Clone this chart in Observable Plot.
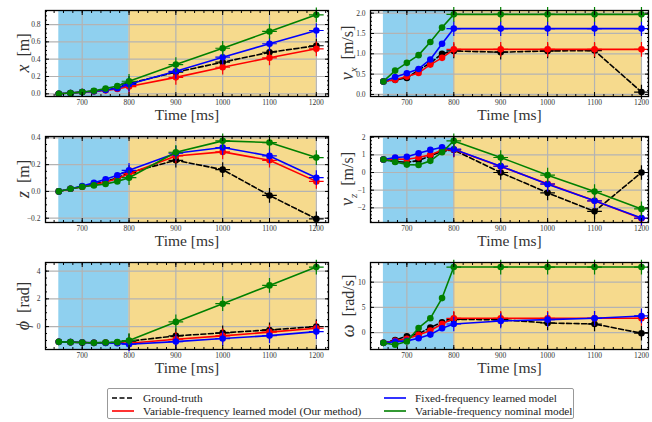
<!DOCTYPE html>
<html><head><meta charset="utf-8">
<script src="https://cdn.jsdelivr.net/npm/d3@7"></script>
<script src="https://cdn.jsdelivr.net/npm/@observablehq/plot@0.6"></script>
<style>
body{margin:0;background:#fff;font-family:"Liberation Serif","DejaVu Serif",serif;}
#fig{position:relative;width:652px;height:422px;overflow:hidden;background:#fff;}
.panel{position:absolute;}
.ylab{position:absolute;transform:translate(-50%,-50%) rotate(-90deg);white-space:nowrap;font-size:16px;color:#333;}
.ylab i{font-family:"Liberation Serif",serif;font-style:italic;font-size:18px;}
.ylab sub{font-size:11px;font-style:italic;}
#legend{position:absolute;left:107px;top:388px;width:467px;height:31px;border:1px solid #999;border-radius:2px;box-sizing:border-box;background:#fff;}
.li{position:absolute;font-size:11.3px;color:#222;white-space:nowrap;transform:translateY(-50%);}
.ls{position:absolute;}
</style></head><body><div id="fig"></div>
<script>
// ---- data ----
const times = [650, 675, 700, 725, 750, 775, 800, 900, 1000, 1100, 1200];
const seriesNames = ["Ground-truth", "Variable-frequency learned model (Our method)", "Fixed-frequency learned model", "Variable-frequency nominal model"];
const seriesColors = ["black", "#ff0000", "#0000ff", "#008000"];
const phaseStarts = [650, 800];
const phaseEnds = [800, 1200];
const phaseColors = ["#8fd0ef", "#f6da8d"];
const xMajorTicks = [700, 800, 900, 1000, 1100, 1200];

// x [m]
const xGT  = [0, 0.01, 0.02, 0.03, 0.045, 0.065, 0.12, 0.25, 0.365, 0.48, 0.555];
const xVar = [0, 0.01, 0.02, 0.03, 0.04, 0.055, 0.084, 0.19, 0.307, 0.416, 0.52];
const xFix = [0, 0.01, 0.02, 0.03, 0.045, 0.065, 0.11, 0.26, 0.423, 0.578, 0.731];
const xNom = [0, 0.01, 0.02, 0.035, 0.06, 0.09, 0.145, 0.338, 0.526, 0.72, 0.912];
// v_x [m/s]
const vxGT  = [0.32, 0.36, 0.405, 0.6, 0.777, 1.0, 1.07, 1.04, 1.07, 1.08, 0.06];
const vxVar = [0.32, 0.36, 0.44, 0.53, 0.735, 0.9, 1.11, 1.11, 1.11, 1.11, 1.11];
const vxFix = [0.32, 0.43, 0.52, 0.628, 0.86, 1.248, 1.62, 1.62, 1.62, 1.62, 1.62];
const vxNom = [0.32, 0.587, 0.777, 0.967, 1.29, 1.645, 1.97, 1.97, 1.97, 1.97, 1.97];
// z [m]
const zGT  = [0, 0.02, 0.035, 0.055, 0.075, 0.1, 0.14, 0.2325, 0.1625, -0.03, -0.205];
const zVar = [0, 0.02, 0.035, 0.05, 0.07, 0.095, 0.1325, 0.265, 0.295, 0.2325, 0.075];
const zFix = [0, 0.02, 0.04, 0.065, 0.09, 0.12, 0.1575, 0.285, 0.3275, 0.265, 0.1025];
const zNom = [0, 0.02, 0.035, 0.045, 0.055, 0.075, 0.1025, 0.2925, 0.3775, 0.365, 0.2525];
// v_z [m/s]
const vzGT  = [0.74, 0.62, 0.58, 0.68, 0.95, 1.2, 1.28, 0.0, -1.15, -2.2, 0.0];
const vzVar = [0.74, 0.77, 0.75, 0.85, 1.0, 1.28, 1.3, 0.34, -0.64, -1.6, -2.6];
const vzFix = [0.74, 0.85, 0.89, 1.09, 1.28, 1.43, 1.32, 0.36, -0.66, -1.6, -2.58];
const vzNom = [0.74, 0.6, 0.45, 0.43, 0.66, 1.15, 1.79, 0.85, -0.15, -1.08, -2.06];
// phi [rad]
const phiGT  = [-1.1, -1.12, -1.15, -1.17, -1.15, -1.15, -1.05, -0.67, -0.45, -0.24, 0.0];
const phiVar = [-1.1, -1.12, -1.15, -1.17, -1.17, -1.18, -1.2, -0.91, -0.67, -0.4, -0.12];
const phiFix = [-1.1, -1.12, -1.15, -1.17, -1.18, -1.2, -1.27, -1.08, -0.86, -0.65, -0.36];
const phiNom = [-1.1, -1.12, -1.15, -1.17, -1.15, -1.12, -1.0, 0.34, 1.65, 2.97, 4.29];
// omega [rad/s]
const wGT  = [-2.04, -1.5, -0.72, -0.26, 1.0, 2.04, 2.6, 2.56, 1.9, 1.7, -0.13];
const wVar = [-2.04, -1.65, -1.25, -0.46, 0.4, 1.7, 2.83, 2.83, 2.83, 2.83, 2.83];
const wFix = [-2.04, -1.8, -1.65, -1.12, -0.4, 0.86, 1.7, 2.3, 2.56, 2.83, 3.3];
const wNom = [-2.04, -2.43, -1.78, 0.92, 2.83, 6.84, 13.0, 13.0, 13.0, 13.0, 13.0];

// y-axis ticks
const xTicksY = [0, 0.2, 0.4, 0.6, 0.8];
const vxTicksY = [0, 0.5, 1.0, 1.5, 2.0];
const zTicksY = [-0.2, 0, 0.2, 0.4];
const vzTicksY = [-2, -1, 0, 1, 2];
const phiTicksY = [0, 2, 4];
const wTicksY = [0, 5, 10];

// ---- layout ----
const fig = document.getElementById("fig");
const phases = phaseStarts.map((s, i) => ({start: s, end: phaseEnds[i], color: phaseColors[i]}));

function rowsOf(series) {
  return series.map((vals, k) => vals.map((v, i) => ({t: times[i], v, k})));
}

function makePanel(o) {
  const col = o.col, row = o.row;
  const left = col === 0 ? 0 : 326;
  const svgTop = [0, 126, 252][row];
  const frameH = row === 2 ? 87 : 86;
  const marginTop = 10, marginBottom = 30;
  const marginLeft = col === 0 ? 45 : 44;
  const marginRight = col === 0 ? 2 : 4;
  const width = 326 + (col === 0 ? 4 : 0);
  const xDomain = col === 0 ? [621.6, 1226] : [622.5, 1215];
  const [y0, y1] = o.yDomain;
  const step = o.yTicks[1] - o.yTicks[0];
  const mant = step / Math.pow(10, Math.floor(Math.log10(step) + 1e-9));
  const ndiv = [1, 5, 10].some(m => Math.abs(mant - m) < 1e-6) ? 5 : 4;
  const minorStep = step / ndiv;
  const yMinor = d3.range(Math.ceil(y0 / minorStep), Math.floor(y1 / minorStep) + 1).map(i => +(i * minorStep).toFixed(6));
  const xMinor = d3.range(Math.ceil(xDomain[0] / 20) * 20, xDomain[1], 20);
  const groups = rowsOf(o.series);
  const lineMarks = [];
  for (const k of [0, 1, 2, 3]) {
    const data = groups[k];
    lineMarks.push(Plot.line(data, {x: "t", y: "v", stroke: seriesColors[k], strokeWidth: 1.6,
      strokeDasharray: k === 0 ? "5,2.5" : null}));
    lineMarks.push(Plot.dot(data, {x: "t", y: "v", fill: seriesColors[k], r: 3.3, stroke: "none"}));
    lineMarks.push(Plot.dot(data.filter(d => d.t >= 800), {x: "t", y: "v", symbol: "plus", stroke: seriesColors[k], r: 4.8, strokeWidth: 1.2}));
  }
  const grid = {stroke: "#b3b3b3", strokeOpacity: 1, strokeWidth: 1.2};
  const tickStyle = {fontSize: 7.5, fill: "#333"};
  const svg = Plot.plot({
    width, height: marginTop + frameH + marginBottom,
    marginTop, marginBottom, marginLeft, marginRight,
    style: {fontFamily: '"Liberation Serif", serif', background: "transparent", overflow: "visible"},
    x: {domain: xDomain, label: null},
    y: {domain: o.yDomain, label: null},
    marks: [
      Plot.rect(phases, {x1: "start", x2: "end", fill: "color"}),
      Plot.gridX(xMajorTicks, grid),
      Plot.gridY(o.yTicks, grid),
      ...lineMarks,
      Plot.frame({stroke: "black", strokeWidth: 1.3}),
      Plot.axisX(xMajorTicks, {anchor: "bottom", tickSize: 0, tickPadding: 3, label: null, tickFormat: d3.format("d"), ...tickStyle}),
      Plot.axisX(xMajorTicks, {anchor: "bottom", tickSize: -4, tickFormat: () => "", label: null}),
      Plot.axisX(xMinor, {anchor: "bottom", tickSize: -2, tickFormat: () => "", label: null}),
      Plot.axisX(xMajorTicks, {anchor: "top", tickSize: -4, tickFormat: () => "", label: null}),
      Plot.axisX(xMinor, {anchor: "top", tickSize: -2, tickFormat: () => "", label: null}),
      Plot.axisY(o.yTicks, {anchor: "left", tickSize: 0, tickPadding: 5, label: null, tickFormat: o.fmt, ...tickStyle}),
      Plot.axisY(o.yTicks, {anchor: "left", tickSize: -4, tickFormat: () => "", label: null}),
      Plot.axisY(yMinor, {anchor: "left", tickSize: -2, tickFormat: () => "", label: null}),
      Plot.axisY(o.yTicks, {anchor: "right", tickSize: -4, tickFormat: () => "", label: null}),
      Plot.axisY(yMinor, {anchor: "right", tickSize: -2, tickFormat: () => "", label: null}),
      Plot.text(["Time [ms]"], {frameAnchor: "bottom", dy: 23, fontSize: 15.5, fill: "#333"})
    ]
  });
  const div = document.createElement("div");
  div.className = "panel";
  div.style.left = left + "px";
  div.style.top = svgTop + "px";
  div.appendChild(svg);
  fig.appendChild(div);
  const lab = document.createElement("div");
  lab.className = "ylab";
  lab.innerHTML = o.label;
  lab.style.left = (col === 0 ? 23 : 348) + "px";
  lab.style.top = (svgTop + marginTop + frameH / 2) + "px";
  fig.appendChild(lab);
}

const f1 = d3.format(".1f"), f0 = d3.format("d");
makePanel({col: 0, row: 0, yDomain: [-0.031, 0.962], yTicks: xTicksY, fmt: f1, series: [xGT, xVar, xFix, xNom], label: "<i>x</i>&nbsp; [m]"});
makePanel({col: 1, row: 0, yDomain: [-0.05, 2.065], yTicks: vxTicksY, fmt: f1, series: [vxGT, vxVar, vxFix, vxNom], label: "<i>v</i><sub>x</sub>&nbsp; [m/s]"});
makePanel({col: 0, row: 1, yDomain: [-0.232, 0.41], yTicks: zTicksY, fmt: f1, series: [zGT, zVar, zFix, zNom], label: "<i>z</i>&nbsp; [m]"});
makePanel({col: 1, row: 1, yDomain: [-2.83, 2.04], yTicks: vzTicksY, fmt: f0, series: [vzGT, vzVar, vzFix, vzNom], label: "<i>v</i><sub>z</sub>&nbsp; [m/s]"});
makePanel({col: 0, row: 2, yDomain: [-1.65, 4.62], yTicks: phiTicksY, fmt: f0, series: [phiGT, phiVar, phiFix, phiNom], label: "<i>ϕ</i>&nbsp; [rad]"});
makePanel({col: 1, row: 2, yDomain: [-3.36, 13.9], yTicks: wTicksY, fmt: f0, series: [wGT, wVar, wFix, wNom], label: "<i>ω</i>&nbsp; [rad/s]"});

// ---- legend ----
const legend = document.createElement("div");
legend.id = "legend";
const legendPos = [[0, 0], [0, 1], [1, 0], [1, 1]]; // [column, row] per series
seriesNames.forEach((name, k) => {
  const [c, r] = legendPos[k];
  const lx = c === 0 ? 4 : 276;
  const ty = r === 0 ? 9 : 22;
  const ns = "http://www.w3.org/2000/svg";
  const s = document.createElementNS(ns, "svg");
  s.setAttribute("width", 22); s.setAttribute("height", 4);
  s.setAttribute("class", "ls");
  s.style.left = lx + "px"; s.style.top = (ty - 2) + "px";
  const ln = document.createElementNS(ns, "line");
  ln.setAttribute("x1", 0); ln.setAttribute("x2", 22); ln.setAttribute("y1", 2); ln.setAttribute("y2", 2);
  ln.setAttribute("stroke", seriesColors[k]); ln.setAttribute("stroke-width", 1.6);
  if (k === 0) ln.setAttribute("stroke-dasharray", "5,2.5");
  s.appendChild(ln);
  legend.appendChild(s);
  const t = document.createElement("div");
  t.className = "li";
  t.textContent = name;
  t.style.left = (lx + 31) + "px";
  t.style.top = ty + "px";
  legend.appendChild(t);
});
fig.appendChild(legend);
</script></body></html>
